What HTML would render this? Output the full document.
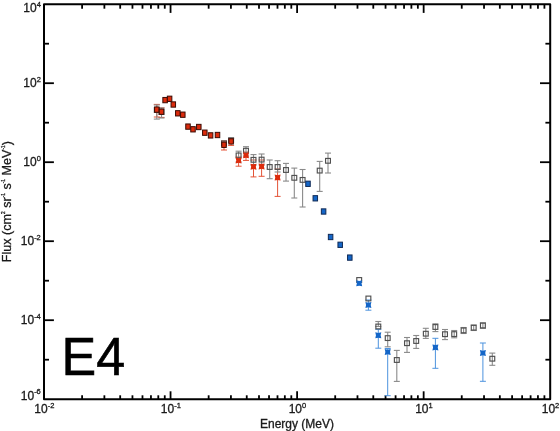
<!DOCTYPE html>
<html><head><meta charset="utf-8"><title>E4 spectrum</title>
<style>
html,body{margin:0;padding:0;background:#fff;}
body{width:560px;height:431px;overflow:hidden;}
svg{display:block;}
</style></head>
<body>
<svg width="560" height="431" viewBox="0 0 560 431">
<rect width="560" height="431" fill="#fff"/>
<rect x="44.00" y="4.20" width="506.20" height="395.00" fill="none" stroke="#000" stroke-width="2.0" stroke-linejoin="round"/>
<line x1="82.10" y1="399.20" x2="82.10" y2="395.30" stroke="#000" stroke-width="1.8"/>
<line x1="82.10" y1="4.20" x2="82.10" y2="8.70" stroke="#000" stroke-width="1.8"/>
<line x1="104.38" y1="399.20" x2="104.38" y2="395.30" stroke="#000" stroke-width="1.8"/>
<line x1="104.38" y1="4.20" x2="104.38" y2="8.70" stroke="#000" stroke-width="1.8"/>
<line x1="120.19" y1="399.20" x2="120.19" y2="395.30" stroke="#000" stroke-width="1.8"/>
<line x1="120.19" y1="4.20" x2="120.19" y2="8.70" stroke="#000" stroke-width="1.8"/>
<line x1="132.45" y1="399.20" x2="132.45" y2="395.30" stroke="#000" stroke-width="1.8"/>
<line x1="132.45" y1="4.20" x2="132.45" y2="8.70" stroke="#000" stroke-width="1.8"/>
<line x1="142.48" y1="399.20" x2="142.48" y2="395.30" stroke="#000" stroke-width="1.8"/>
<line x1="142.48" y1="4.20" x2="142.48" y2="8.70" stroke="#000" stroke-width="1.8"/>
<line x1="150.95" y1="399.20" x2="150.95" y2="395.30" stroke="#000" stroke-width="1.8"/>
<line x1="150.95" y1="4.20" x2="150.95" y2="8.70" stroke="#000" stroke-width="1.8"/>
<line x1="158.29" y1="399.20" x2="158.29" y2="395.30" stroke="#000" stroke-width="1.8"/>
<line x1="158.29" y1="4.20" x2="158.29" y2="8.70" stroke="#000" stroke-width="1.8"/>
<line x1="164.76" y1="399.20" x2="164.76" y2="395.30" stroke="#000" stroke-width="1.8"/>
<line x1="164.76" y1="4.20" x2="164.76" y2="8.70" stroke="#000" stroke-width="1.8"/>
<line x1="170.55" y1="399.20" x2="170.55" y2="391.30" stroke="#000" stroke-width="1.8"/>
<line x1="170.55" y1="4.20" x2="170.55" y2="12.90" stroke="#000" stroke-width="1.8"/>
<line x1="208.65" y1="399.20" x2="208.65" y2="395.30" stroke="#000" stroke-width="1.8"/>
<line x1="208.65" y1="4.20" x2="208.65" y2="8.70" stroke="#000" stroke-width="1.8"/>
<line x1="230.93" y1="399.20" x2="230.93" y2="395.30" stroke="#000" stroke-width="1.8"/>
<line x1="230.93" y1="4.20" x2="230.93" y2="8.70" stroke="#000" stroke-width="1.8"/>
<line x1="246.74" y1="399.20" x2="246.74" y2="395.30" stroke="#000" stroke-width="1.8"/>
<line x1="246.74" y1="4.20" x2="246.74" y2="8.70" stroke="#000" stroke-width="1.8"/>
<line x1="259.00" y1="399.20" x2="259.00" y2="395.30" stroke="#000" stroke-width="1.8"/>
<line x1="259.00" y1="4.20" x2="259.00" y2="8.70" stroke="#000" stroke-width="1.8"/>
<line x1="269.03" y1="399.20" x2="269.03" y2="395.30" stroke="#000" stroke-width="1.8"/>
<line x1="269.03" y1="4.20" x2="269.03" y2="8.70" stroke="#000" stroke-width="1.8"/>
<line x1="277.50" y1="399.20" x2="277.50" y2="395.30" stroke="#000" stroke-width="1.8"/>
<line x1="277.50" y1="4.20" x2="277.50" y2="8.70" stroke="#000" stroke-width="1.8"/>
<line x1="284.84" y1="399.20" x2="284.84" y2="395.30" stroke="#000" stroke-width="1.8"/>
<line x1="284.84" y1="4.20" x2="284.84" y2="8.70" stroke="#000" stroke-width="1.8"/>
<line x1="291.31" y1="399.20" x2="291.31" y2="395.30" stroke="#000" stroke-width="1.8"/>
<line x1="291.31" y1="4.20" x2="291.31" y2="8.70" stroke="#000" stroke-width="1.8"/>
<line x1="297.10" y1="399.20" x2="297.10" y2="391.30" stroke="#000" stroke-width="1.8"/>
<line x1="297.10" y1="4.20" x2="297.10" y2="12.90" stroke="#000" stroke-width="1.8"/>
<line x1="335.20" y1="399.20" x2="335.20" y2="395.30" stroke="#000" stroke-width="1.8"/>
<line x1="335.20" y1="4.20" x2="335.20" y2="8.70" stroke="#000" stroke-width="1.8"/>
<line x1="357.48" y1="399.20" x2="357.48" y2="395.30" stroke="#000" stroke-width="1.8"/>
<line x1="357.48" y1="4.20" x2="357.48" y2="8.70" stroke="#000" stroke-width="1.8"/>
<line x1="373.29" y1="399.20" x2="373.29" y2="395.30" stroke="#000" stroke-width="1.8"/>
<line x1="373.29" y1="4.20" x2="373.29" y2="8.70" stroke="#000" stroke-width="1.8"/>
<line x1="385.55" y1="399.20" x2="385.55" y2="395.30" stroke="#000" stroke-width="1.8"/>
<line x1="385.55" y1="4.20" x2="385.55" y2="8.70" stroke="#000" stroke-width="1.8"/>
<line x1="395.58" y1="399.20" x2="395.58" y2="395.30" stroke="#000" stroke-width="1.8"/>
<line x1="395.58" y1="4.20" x2="395.58" y2="8.70" stroke="#000" stroke-width="1.8"/>
<line x1="404.05" y1="399.20" x2="404.05" y2="395.30" stroke="#000" stroke-width="1.8"/>
<line x1="404.05" y1="4.20" x2="404.05" y2="8.70" stroke="#000" stroke-width="1.8"/>
<line x1="411.39" y1="399.20" x2="411.39" y2="395.30" stroke="#000" stroke-width="1.8"/>
<line x1="411.39" y1="4.20" x2="411.39" y2="8.70" stroke="#000" stroke-width="1.8"/>
<line x1="417.86" y1="399.20" x2="417.86" y2="395.30" stroke="#000" stroke-width="1.8"/>
<line x1="417.86" y1="4.20" x2="417.86" y2="8.70" stroke="#000" stroke-width="1.8"/>
<line x1="423.65" y1="399.20" x2="423.65" y2="391.30" stroke="#000" stroke-width="1.8"/>
<line x1="423.65" y1="4.20" x2="423.65" y2="12.90" stroke="#000" stroke-width="1.8"/>
<line x1="461.75" y1="399.20" x2="461.75" y2="395.30" stroke="#000" stroke-width="1.8"/>
<line x1="461.75" y1="4.20" x2="461.75" y2="8.70" stroke="#000" stroke-width="1.8"/>
<line x1="484.03" y1="399.20" x2="484.03" y2="395.30" stroke="#000" stroke-width="1.8"/>
<line x1="484.03" y1="4.20" x2="484.03" y2="8.70" stroke="#000" stroke-width="1.8"/>
<line x1="499.84" y1="399.20" x2="499.84" y2="395.30" stroke="#000" stroke-width="1.8"/>
<line x1="499.84" y1="4.20" x2="499.84" y2="8.70" stroke="#000" stroke-width="1.8"/>
<line x1="512.10" y1="399.20" x2="512.10" y2="395.30" stroke="#000" stroke-width="1.8"/>
<line x1="512.10" y1="4.20" x2="512.10" y2="8.70" stroke="#000" stroke-width="1.8"/>
<line x1="522.13" y1="399.20" x2="522.13" y2="395.30" stroke="#000" stroke-width="1.8"/>
<line x1="522.13" y1="4.20" x2="522.13" y2="8.70" stroke="#000" stroke-width="1.8"/>
<line x1="530.60" y1="399.20" x2="530.60" y2="395.30" stroke="#000" stroke-width="1.8"/>
<line x1="530.60" y1="4.20" x2="530.60" y2="8.70" stroke="#000" stroke-width="1.8"/>
<line x1="537.94" y1="399.20" x2="537.94" y2="395.30" stroke="#000" stroke-width="1.8"/>
<line x1="537.94" y1="4.20" x2="537.94" y2="8.70" stroke="#000" stroke-width="1.8"/>
<line x1="544.41" y1="399.20" x2="544.41" y2="395.30" stroke="#000" stroke-width="1.8"/>
<line x1="544.41" y1="4.20" x2="544.41" y2="8.70" stroke="#000" stroke-width="1.8"/>
<line x1="44.00" y1="359.70" x2="49.00" y2="359.70" stroke="#000" stroke-width="1.8"/>
<line x1="550.20" y1="359.70" x2="545.40" y2="359.70" stroke="#000" stroke-width="1.8"/>
<line x1="44.00" y1="320.20" x2="53.90" y2="320.20" stroke="#000" stroke-width="1.8"/>
<line x1="550.20" y1="320.20" x2="540.00" y2="320.20" stroke="#000" stroke-width="1.8"/>
<line x1="44.00" y1="280.70" x2="49.00" y2="280.70" stroke="#000" stroke-width="1.8"/>
<line x1="550.20" y1="280.70" x2="545.40" y2="280.70" stroke="#000" stroke-width="1.8"/>
<line x1="44.00" y1="241.20" x2="53.90" y2="241.20" stroke="#000" stroke-width="1.8"/>
<line x1="550.20" y1="241.20" x2="540.00" y2="241.20" stroke="#000" stroke-width="1.8"/>
<line x1="44.00" y1="201.70" x2="49.00" y2="201.70" stroke="#000" stroke-width="1.8"/>
<line x1="550.20" y1="201.70" x2="545.40" y2="201.70" stroke="#000" stroke-width="1.8"/>
<line x1="44.00" y1="162.20" x2="53.90" y2="162.20" stroke="#000" stroke-width="1.8"/>
<line x1="550.20" y1="162.20" x2="540.00" y2="162.20" stroke="#000" stroke-width="1.8"/>
<line x1="44.00" y1="122.70" x2="49.00" y2="122.70" stroke="#000" stroke-width="1.8"/>
<line x1="550.20" y1="122.70" x2="545.40" y2="122.70" stroke="#000" stroke-width="1.8"/>
<line x1="44.00" y1="83.20" x2="53.90" y2="83.20" stroke="#000" stroke-width="1.8"/>
<line x1="550.20" y1="83.20" x2="540.00" y2="83.20" stroke="#000" stroke-width="1.8"/>
<line x1="44.00" y1="43.70" x2="49.00" y2="43.70" stroke="#000" stroke-width="1.8"/>
<line x1="550.20" y1="43.70" x2="545.40" y2="43.70" stroke="#000" stroke-width="1.8"/>
<line x1="156.80" y1="104.40" x2="156.80" y2="117.00" stroke="#e34b2c" stroke-width="0.95"/>
<line x1="153.80" y1="104.40" x2="159.80" y2="104.40" stroke="#e34b2c" stroke-width="0.95"/>
<line x1="153.80" y1="117.00" x2="159.80" y2="117.00" stroke="#e34b2c" stroke-width="0.95"/>
<line x1="161.50" y1="107.90" x2="161.50" y2="117.40" stroke="#e34b2c" stroke-width="0.95"/>
<line x1="158.50" y1="107.90" x2="164.50" y2="107.90" stroke="#e34b2c" stroke-width="0.95"/>
<line x1="158.50" y1="117.40" x2="164.50" y2="117.40" stroke="#e34b2c" stroke-width="0.95"/>
<line x1="224.00" y1="141.00" x2="224.00" y2="150.00" stroke="#e34b2c" stroke-width="0.95"/>
<line x1="221.00" y1="141.00" x2="227.00" y2="141.00" stroke="#e34b2c" stroke-width="0.95"/>
<line x1="221.00" y1="150.00" x2="227.00" y2="150.00" stroke="#e34b2c" stroke-width="0.95"/>
<line x1="231.10" y1="138.50" x2="231.10" y2="145.40" stroke="#e34b2c" stroke-width="0.95"/>
<line x1="228.10" y1="138.50" x2="234.10" y2="138.50" stroke="#e34b2c" stroke-width="0.95"/>
<line x1="228.10" y1="145.40" x2="234.10" y2="145.40" stroke="#e34b2c" stroke-width="0.95"/>
<line x1="238.60" y1="157.00" x2="238.60" y2="166.20" stroke="#e34b2c" stroke-width="0.95"/>
<line x1="235.60" y1="157.00" x2="241.60" y2="157.00" stroke="#e34b2c" stroke-width="0.95"/>
<line x1="235.60" y1="166.20" x2="241.60" y2="166.20" stroke="#e34b2c" stroke-width="0.95"/>
<line x1="246.00" y1="152.00" x2="246.00" y2="160.40" stroke="#e34b2c" stroke-width="0.95"/>
<line x1="243.00" y1="152.00" x2="249.00" y2="152.00" stroke="#e34b2c" stroke-width="0.95"/>
<line x1="243.00" y1="160.40" x2="249.00" y2="160.40" stroke="#e34b2c" stroke-width="0.95"/>
<line x1="253.50" y1="160.00" x2="253.50" y2="176.90" stroke="#e34b2c" stroke-width="0.95"/>
<line x1="250.50" y1="160.00" x2="256.50" y2="160.00" stroke="#e34b2c" stroke-width="0.95"/>
<line x1="250.50" y1="176.90" x2="256.50" y2="176.90" stroke="#e34b2c" stroke-width="0.95"/>
<line x1="261.60" y1="160.00" x2="261.60" y2="176.30" stroke="#e34b2c" stroke-width="0.95"/>
<line x1="258.60" y1="160.00" x2="264.60" y2="160.00" stroke="#e34b2c" stroke-width="0.95"/>
<line x1="258.60" y1="176.30" x2="264.60" y2="176.30" stroke="#e34b2c" stroke-width="0.95"/>
<line x1="277.60" y1="169.00" x2="277.60" y2="196.40" stroke="#e34b2c" stroke-width="0.95"/>
<line x1="274.60" y1="169.00" x2="280.60" y2="169.00" stroke="#e34b2c" stroke-width="0.95"/>
<line x1="274.60" y1="196.40" x2="280.60" y2="196.40" stroke="#e34b2c" stroke-width="0.95"/>
<line x1="368.40" y1="300.00" x2="368.40" y2="310.20" stroke="#4d93de" stroke-width="1.0"/>
<line x1="365.40" y1="300.00" x2="371.40" y2="300.00" stroke="#4d93de" stroke-width="1.0"/>
<line x1="365.40" y1="310.20" x2="371.40" y2="310.20" stroke="#4d93de" stroke-width="1.0"/>
<line x1="378.30" y1="329.30" x2="378.30" y2="348.20" stroke="#4d93de" stroke-width="1.0"/>
<line x1="375.30" y1="329.30" x2="381.30" y2="329.30" stroke="#4d93de" stroke-width="1.0"/>
<line x1="375.30" y1="348.20" x2="381.30" y2="348.20" stroke="#4d93de" stroke-width="1.0"/>
<line x1="387.70" y1="348.50" x2="387.70" y2="395.70" stroke="#4d93de" stroke-width="1.0"/>
<line x1="384.70" y1="348.50" x2="390.70" y2="348.50" stroke="#4d93de" stroke-width="1.0"/>
<line x1="384.70" y1="395.70" x2="390.70" y2="395.70" stroke="#4d93de" stroke-width="1.0"/>
<line x1="435.40" y1="338.30" x2="435.40" y2="368.30" stroke="#4d93de" stroke-width="1.0"/>
<line x1="432.40" y1="338.30" x2="438.40" y2="338.30" stroke="#4d93de" stroke-width="1.0"/>
<line x1="432.40" y1="368.30" x2="438.40" y2="368.30" stroke="#4d93de" stroke-width="1.0"/>
<line x1="482.90" y1="343.00" x2="482.90" y2="381.30" stroke="#4d93de" stroke-width="1.0"/>
<line x1="479.90" y1="343.00" x2="485.90" y2="343.00" stroke="#4d93de" stroke-width="1.0"/>
<line x1="479.90" y1="381.30" x2="485.90" y2="381.30" stroke="#4d93de" stroke-width="1.0"/>
<line x1="156.80" y1="105.00" x2="156.80" y2="119.10" stroke="#8a8a8a" stroke-width="1.1"/>
<line x1="153.80" y1="105.00" x2="159.80" y2="105.00" stroke="#8a8a8a" stroke-width="1.1"/>
<line x1="153.80" y1="119.10" x2="159.80" y2="119.10" stroke="#8a8a8a" stroke-width="1.1"/>
<line x1="161.50" y1="108.00" x2="161.50" y2="118.00" stroke="#8a8a8a" stroke-width="1.1"/>
<line x1="158.50" y1="108.00" x2="164.50" y2="108.00" stroke="#8a8a8a" stroke-width="1.1"/>
<line x1="158.50" y1="118.00" x2="164.50" y2="118.00" stroke="#8a8a8a" stroke-width="1.1"/>
<line x1="238.60" y1="151.20" x2="238.60" y2="162.00" stroke="#8a8a8a" stroke-width="1.1"/>
<line x1="235.60" y1="151.20" x2="241.60" y2="151.20" stroke="#8a8a8a" stroke-width="1.1"/>
<line x1="235.60" y1="162.00" x2="241.60" y2="162.00" stroke="#8a8a8a" stroke-width="1.1"/>
<line x1="246.00" y1="146.70" x2="246.00" y2="156.00" stroke="#8a8a8a" stroke-width="1.1"/>
<line x1="243.00" y1="146.70" x2="249.00" y2="146.70" stroke="#8a8a8a" stroke-width="1.1"/>
<line x1="243.00" y1="156.00" x2="249.00" y2="156.00" stroke="#8a8a8a" stroke-width="1.1"/>
<line x1="253.50" y1="154.60" x2="253.50" y2="165.00" stroke="#8a8a8a" stroke-width="1.1"/>
<line x1="250.50" y1="154.60" x2="256.50" y2="154.60" stroke="#8a8a8a" stroke-width="1.1"/>
<line x1="250.50" y1="165.00" x2="256.50" y2="165.00" stroke="#8a8a8a" stroke-width="1.1"/>
<line x1="261.60" y1="154.00" x2="261.60" y2="165.00" stroke="#8a8a8a" stroke-width="1.1"/>
<line x1="258.60" y1="154.00" x2="264.60" y2="154.00" stroke="#8a8a8a" stroke-width="1.1"/>
<line x1="258.60" y1="165.00" x2="264.60" y2="165.00" stroke="#8a8a8a" stroke-width="1.1"/>
<line x1="269.70" y1="160.00" x2="269.70" y2="178.70" stroke="#8a8a8a" stroke-width="1.1"/>
<line x1="266.70" y1="160.00" x2="272.70" y2="160.00" stroke="#8a8a8a" stroke-width="1.1"/>
<line x1="266.70" y1="178.70" x2="272.70" y2="178.70" stroke="#8a8a8a" stroke-width="1.1"/>
<line x1="277.60" y1="160.70" x2="277.60" y2="172.00" stroke="#8a8a8a" stroke-width="1.1"/>
<line x1="274.60" y1="160.70" x2="280.60" y2="160.70" stroke="#8a8a8a" stroke-width="1.1"/>
<line x1="274.60" y1="172.00" x2="280.60" y2="172.00" stroke="#8a8a8a" stroke-width="1.1"/>
<line x1="286.00" y1="163.40" x2="286.00" y2="181.10" stroke="#8a8a8a" stroke-width="1.1"/>
<line x1="283.00" y1="163.40" x2="289.00" y2="163.40" stroke="#8a8a8a" stroke-width="1.1"/>
<line x1="283.00" y1="181.10" x2="289.00" y2="181.10" stroke="#8a8a8a" stroke-width="1.1"/>
<line x1="294.30" y1="168.10" x2="294.30" y2="198.00" stroke="#8a8a8a" stroke-width="1.1"/>
<line x1="291.30" y1="168.10" x2="297.30" y2="168.10" stroke="#8a8a8a" stroke-width="1.1"/>
<line x1="291.30" y1="198.00" x2="297.30" y2="198.00" stroke="#8a8a8a" stroke-width="1.1"/>
<line x1="302.60" y1="169.50" x2="302.60" y2="207.00" stroke="#8a8a8a" stroke-width="1.1"/>
<line x1="299.60" y1="169.50" x2="305.60" y2="169.50" stroke="#8a8a8a" stroke-width="1.1"/>
<line x1="299.60" y1="207.00" x2="305.60" y2="207.00" stroke="#8a8a8a" stroke-width="1.1"/>
<line x1="319.70" y1="161.40" x2="319.70" y2="191.40" stroke="#8a8a8a" stroke-width="1.1"/>
<line x1="316.70" y1="161.40" x2="322.70" y2="161.40" stroke="#8a8a8a" stroke-width="1.1"/>
<line x1="316.70" y1="191.40" x2="322.70" y2="191.40" stroke="#8a8a8a" stroke-width="1.1"/>
<line x1="328.00" y1="153.10" x2="328.00" y2="173.00" stroke="#8a8a8a" stroke-width="1.1"/>
<line x1="325.00" y1="153.10" x2="331.00" y2="153.10" stroke="#8a8a8a" stroke-width="1.1"/>
<line x1="325.00" y1="173.00" x2="331.00" y2="173.00" stroke="#8a8a8a" stroke-width="1.1"/>
<line x1="378.30" y1="321.50" x2="378.30" y2="326.50" stroke="#8a8a8a" stroke-width="1.1"/>
<line x1="375.30" y1="321.50" x2="381.30" y2="321.50" stroke="#8a8a8a" stroke-width="1.1"/>
<line x1="375.30" y1="326.50" x2="381.30" y2="326.50" stroke="#8a8a8a" stroke-width="1.1"/>
<line x1="387.70" y1="332.20" x2="387.70" y2="346.80" stroke="#8a8a8a" stroke-width="1.1"/>
<line x1="384.70" y1="332.20" x2="390.70" y2="332.20" stroke="#8a8a8a" stroke-width="1.1"/>
<line x1="384.70" y1="346.80" x2="390.70" y2="346.80" stroke="#8a8a8a" stroke-width="1.1"/>
<line x1="396.80" y1="350.40" x2="396.80" y2="381.40" stroke="#8a8a8a" stroke-width="1.1"/>
<line x1="393.80" y1="350.40" x2="399.80" y2="350.40" stroke="#8a8a8a" stroke-width="1.1"/>
<line x1="393.80" y1="381.40" x2="399.80" y2="381.40" stroke="#8a8a8a" stroke-width="1.1"/>
<line x1="407.00" y1="337.50" x2="407.00" y2="352.40" stroke="#8a8a8a" stroke-width="1.1"/>
<line x1="404.00" y1="337.50" x2="410.00" y2="337.50" stroke="#8a8a8a" stroke-width="1.1"/>
<line x1="404.00" y1="352.40" x2="410.00" y2="352.40" stroke="#8a8a8a" stroke-width="1.1"/>
<line x1="416.20" y1="335.50" x2="416.20" y2="348.40" stroke="#8a8a8a" stroke-width="1.1"/>
<line x1="413.20" y1="335.50" x2="419.20" y2="335.50" stroke="#8a8a8a" stroke-width="1.1"/>
<line x1="413.20" y1="348.40" x2="419.20" y2="348.40" stroke="#8a8a8a" stroke-width="1.1"/>
<line x1="425.80" y1="328.30" x2="425.80" y2="338.40" stroke="#8a8a8a" stroke-width="1.1"/>
<line x1="422.80" y1="328.30" x2="428.80" y2="328.30" stroke="#8a8a8a" stroke-width="1.1"/>
<line x1="422.80" y1="338.40" x2="428.80" y2="338.40" stroke="#8a8a8a" stroke-width="1.1"/>
<line x1="435.40" y1="323.80" x2="435.40" y2="331.60" stroke="#8a8a8a" stroke-width="1.1"/>
<line x1="432.40" y1="323.80" x2="438.40" y2="323.80" stroke="#8a8a8a" stroke-width="1.1"/>
<line x1="432.40" y1="331.60" x2="438.40" y2="331.60" stroke="#8a8a8a" stroke-width="1.1"/>
<line x1="445.00" y1="329.50" x2="445.00" y2="339.60" stroke="#8a8a8a" stroke-width="1.1"/>
<line x1="442.00" y1="329.50" x2="448.00" y2="329.50" stroke="#8a8a8a" stroke-width="1.1"/>
<line x1="442.00" y1="339.60" x2="448.00" y2="339.60" stroke="#8a8a8a" stroke-width="1.1"/>
<line x1="454.20" y1="330.50" x2="454.20" y2="337.80" stroke="#8a8a8a" stroke-width="1.1"/>
<line x1="451.20" y1="330.50" x2="457.20" y2="330.50" stroke="#8a8a8a" stroke-width="1.1"/>
<line x1="451.20" y1="337.80" x2="457.20" y2="337.80" stroke="#8a8a8a" stroke-width="1.1"/>
<line x1="463.60" y1="327.50" x2="463.60" y2="333.50" stroke="#8a8a8a" stroke-width="1.1"/>
<line x1="460.60" y1="327.50" x2="466.60" y2="327.50" stroke="#8a8a8a" stroke-width="1.1"/>
<line x1="460.60" y1="333.50" x2="466.60" y2="333.50" stroke="#8a8a8a" stroke-width="1.1"/>
<line x1="473.70" y1="325.00" x2="473.70" y2="330.50" stroke="#8a8a8a" stroke-width="1.1"/>
<line x1="470.70" y1="325.00" x2="476.70" y2="325.00" stroke="#8a8a8a" stroke-width="1.1"/>
<line x1="470.70" y1="330.50" x2="476.70" y2="330.50" stroke="#8a8a8a" stroke-width="1.1"/>
<line x1="482.90" y1="322.80" x2="482.90" y2="328.40" stroke="#8a8a8a" stroke-width="1.1"/>
<line x1="479.90" y1="322.80" x2="485.90" y2="322.80" stroke="#8a8a8a" stroke-width="1.1"/>
<line x1="479.90" y1="328.40" x2="485.90" y2="328.40" stroke="#8a8a8a" stroke-width="1.1"/>
<line x1="492.30" y1="353.10" x2="492.30" y2="365.30" stroke="#8a8a8a" stroke-width="1.1"/>
<line x1="489.30" y1="353.10" x2="495.30" y2="353.10" stroke="#8a8a8a" stroke-width="1.1"/>
<line x1="489.30" y1="365.30" x2="495.30" y2="365.30" stroke="#8a8a8a" stroke-width="1.1"/>
<rect x="154.38" y="107.62" width="4.85" height="4.75" fill="none" stroke="#505050" stroke-width="1.15"/>
<rect x="159.07" y="109.62" width="4.85" height="4.75" fill="none" stroke="#505050" stroke-width="1.15"/>
<rect x="221.57" y="140.93" width="4.85" height="4.75" fill="none" stroke="#505050" stroke-width="1.15"/>
<rect x="228.67" y="137.82" width="4.85" height="4.75" fill="none" stroke="#505050" stroke-width="1.15"/>
<rect x="236.17" y="153.03" width="4.85" height="4.75" fill="none" stroke="#505050" stroke-width="1.15"/>
<rect x="243.57" y="148.32" width="4.85" height="4.75" fill="none" stroke="#505050" stroke-width="1.15"/>
<rect x="251.07" y="157.43" width="4.85" height="4.75" fill="none" stroke="#505050" stroke-width="1.15"/>
<rect x="259.18" y="157.22" width="4.85" height="4.75" fill="none" stroke="#505050" stroke-width="1.15"/>
<rect x="267.27" y="164.62" width="4.85" height="4.75" fill="none" stroke="#505050" stroke-width="1.15"/>
<rect x="275.18" y="164.62" width="4.85" height="4.75" fill="none" stroke="#505050" stroke-width="1.15"/>
<rect x="283.57" y="167.62" width="4.85" height="4.75" fill="none" stroke="#505050" stroke-width="1.15"/>
<rect x="291.88" y="175.43" width="4.85" height="4.75" fill="none" stroke="#505050" stroke-width="1.15"/>
<rect x="300.18" y="177.53" width="4.85" height="4.75" fill="none" stroke="#505050" stroke-width="1.15"/>
<rect x="317.27" y="168.22" width="4.85" height="4.75" fill="none" stroke="#505050" stroke-width="1.15"/>
<rect x="325.57" y="158.43" width="4.85" height="4.75" fill="none" stroke="#505050" stroke-width="1.15"/>
<rect x="356.77" y="277.62" width="4.85" height="4.75" fill="none" stroke="#505050" stroke-width="1.15"/>
<rect x="365.97" y="296.12" width="4.85" height="4.75" fill="none" stroke="#505050" stroke-width="1.15"/>
<rect x="375.88" y="324.12" width="4.85" height="4.75" fill="none" stroke="#505050" stroke-width="1.15"/>
<rect x="385.27" y="335.73" width="4.85" height="4.75" fill="none" stroke="#505050" stroke-width="1.15"/>
<rect x="394.38" y="357.62" width="4.85" height="4.75" fill="none" stroke="#505050" stroke-width="1.15"/>
<rect x="404.57" y="340.82" width="4.85" height="4.75" fill="none" stroke="#505050" stroke-width="1.15"/>
<rect x="413.77" y="338.62" width="4.85" height="4.75" fill="none" stroke="#505050" stroke-width="1.15"/>
<rect x="423.38" y="331.32" width="4.85" height="4.75" fill="none" stroke="#505050" stroke-width="1.15"/>
<rect x="432.97" y="324.62" width="4.85" height="4.75" fill="none" stroke="#505050" stroke-width="1.15"/>
<rect x="442.57" y="331.82" width="4.85" height="4.75" fill="none" stroke="#505050" stroke-width="1.15"/>
<rect x="451.77" y="331.73" width="4.85" height="4.75" fill="none" stroke="#505050" stroke-width="1.15"/>
<rect x="461.18" y="328.02" width="4.85" height="4.75" fill="none" stroke="#505050" stroke-width="1.15"/>
<rect x="471.27" y="325.32" width="4.85" height="4.75" fill="none" stroke="#505050" stroke-width="1.15"/>
<rect x="480.47" y="323.12" width="4.85" height="4.75" fill="none" stroke="#505050" stroke-width="1.15"/>
<rect x="489.88" y="356.32" width="4.85" height="4.75" fill="none" stroke="#505050" stroke-width="1.15"/>
<rect x="154.55" y="106.95" width="4.50" height="5.30" fill="#dc2b0c" stroke="#3b0c05" stroke-width="1.0"/>
<rect x="159.25" y="109.05" width="4.50" height="5.30" fill="#dc2b0c" stroke="#3b0c05" stroke-width="1.0"/>
<rect x="162.85" y="97.45" width="4.50" height="5.30" fill="#dc2b0c" stroke="#3b0c05" stroke-width="1.0"/>
<rect x="167.35" y="96.15" width="4.50" height="5.30" fill="#dc2b0c" stroke="#3b0c05" stroke-width="1.0"/>
<rect x="171.05" y="101.85" width="4.50" height="5.30" fill="#dc2b0c" stroke="#3b0c05" stroke-width="1.0"/>
<rect x="175.55" y="110.65" width="4.50" height="5.30" fill="#dc2b0c" stroke="#3b0c05" stroke-width="1.0"/>
<rect x="180.55" y="112.05" width="4.50" height="5.30" fill="#dc2b0c" stroke="#3b0c05" stroke-width="1.0"/>
<rect x="185.75" y="123.95" width="4.50" height="5.30" fill="#dc2b0c" stroke="#3b0c05" stroke-width="1.0"/>
<rect x="190.75" y="126.65" width="4.50" height="5.30" fill="#dc2b0c" stroke="#3b0c05" stroke-width="1.0"/>
<rect x="196.55" y="124.35" width="4.50" height="5.30" fill="#dc2b0c" stroke="#3b0c05" stroke-width="1.0"/>
<rect x="202.55" y="130.05" width="4.50" height="5.30" fill="#dc2b0c" stroke="#3b0c05" stroke-width="1.0"/>
<rect x="208.35" y="132.75" width="4.50" height="5.30" fill="#dc2b0c" stroke="#3b0c05" stroke-width="1.0"/>
<rect x="215.25" y="132.35" width="4.50" height="5.30" fill="#dc2b0c" stroke="#3b0c05" stroke-width="1.0"/>
<rect x="221.75" y="142.15" width="4.50" height="5.30" fill="#dc2b0c" stroke="#3b0c05" stroke-width="1.0"/>
<rect x="228.85" y="138.75" width="4.50" height="5.30" fill="#dc2b0c" stroke="#3b0c05" stroke-width="1.0"/>
<path d="M235.60,157.50 L238.60,158.16 L241.60,157.50 L240.94,160.50 L241.60,163.50 L238.60,162.84 L235.60,163.50 L236.26,160.50 Z" fill="#dc2b0c"/>
<path d="M243.00,152.30 L246.00,152.96 L249.00,152.30 L248.34,155.30 L249.00,158.30 L246.00,157.64 L243.00,158.30 L243.66,155.30 Z" fill="#dc2b0c"/>
<path d="M250.50,163.70 L253.50,164.36 L256.50,163.70 L255.84,166.70 L256.50,169.70 L253.50,169.04 L250.50,169.70 L251.16,166.70 Z" fill="#dc2b0c"/>
<path d="M258.60,163.40 L261.60,164.06 L264.60,163.40 L263.94,166.40 L264.60,169.40 L261.60,168.74 L258.60,169.40 L259.26,166.40 Z" fill="#dc2b0c"/>
<path d="M274.60,174.60 L277.60,175.26 L280.60,174.60 L279.94,177.60 L280.60,180.60 L277.60,179.94 L274.60,180.60 L275.26,177.60 Z" fill="#dc2b0c"/>
<rect x="305.75" y="181.15" width="4.50" height="5.30" fill="#1466c8" stroke="#102a55" stroke-width="1.0"/>
<rect x="313.05" y="195.65" width="4.50" height="5.30" fill="#1466c8" stroke="#102a55" stroke-width="1.0"/>
<rect x="321.35" y="208.85" width="4.50" height="5.30" fill="#1466c8" stroke="#102a55" stroke-width="1.0"/>
<rect x="328.35" y="234.35" width="4.50" height="5.30" fill="#1466c8" stroke="#102a55" stroke-width="1.0"/>
<rect x="337.95" y="242.15" width="4.50" height="5.30" fill="#1466c8" stroke="#102a55" stroke-width="1.0"/>
<rect x="347.55" y="254.95" width="4.50" height="5.30" fill="#1466c8" stroke="#102a55" stroke-width="1.0"/>
<path d="M356.20,280.30 L359.20,280.96 L362.20,280.30 L361.54,283.30 L362.20,286.30 L359.20,285.64 L356.20,286.30 L356.86,283.30 Z" fill="#1466c8"/>
<path d="M365.40,302.00 L368.40,302.66 L371.40,302.00 L370.74,305.00 L371.40,308.00 L368.40,307.34 L365.40,308.00 L366.06,305.00 Z" fill="#1466c8"/>
<path d="M375.30,332.30 L378.30,332.96 L381.30,332.30 L380.64,335.30 L381.30,338.30 L378.30,337.64 L375.30,338.30 L375.96,335.30 Z" fill="#1466c8"/>
<path d="M384.70,349.00 L387.70,349.66 L390.70,349.00 L390.04,352.00 L390.70,355.00 L387.70,354.34 L384.70,355.00 L385.36,352.00 Z" fill="#1466c8"/>
<path d="M432.40,344.40 L435.40,345.06 L438.40,344.40 L437.74,347.40 L438.40,350.40 L435.40,349.74 L432.40,350.40 L433.06,347.40 Z" fill="#1466c8"/>
<path d="M479.90,350.00 L482.90,350.66 L485.90,350.00 L485.24,353.00 L485.90,356.00 L482.90,355.34 L479.90,356.00 L480.56,353.00 Z" fill="#1466c8"/>
<text x="40.8" y="11.80" text-anchor="end" font-family="Liberation Sans, Arial, sans-serif" font-size="12" fill="#1a1a1a" stroke="#1a1a1a" stroke-width="0.3">10<tspan font-size="7.5" dy="-5.2">4</tspan></text>
<text x="40.8" y="87.20" text-anchor="end" font-family="Liberation Sans, Arial, sans-serif" font-size="12" fill="#1a1a1a" stroke="#1a1a1a" stroke-width="0.3">10<tspan font-size="7.5" dy="-5.2">2</tspan></text>
<text x="40.8" y="166.20" text-anchor="end" font-family="Liberation Sans, Arial, sans-serif" font-size="12" fill="#1a1a1a" stroke="#1a1a1a" stroke-width="0.3">10<tspan font-size="7.5" dy="-5.2">0</tspan></text>
<text x="40.8" y="245.20" text-anchor="end" font-family="Liberation Sans, Arial, sans-serif" font-size="12" fill="#1a1a1a" stroke="#1a1a1a" stroke-width="0.3">10<tspan font-size="7.5" dy="-5.2">-2</tspan></text>
<text x="40.8" y="324.20" text-anchor="end" font-family="Liberation Sans, Arial, sans-serif" font-size="12" fill="#1a1a1a" stroke="#1a1a1a" stroke-width="0.3">10<tspan font-size="7.5" dy="-5.2">-4</tspan></text>
<text x="40.8" y="399.60" text-anchor="end" font-family="Liberation Sans, Arial, sans-serif" font-size="12" fill="#1a1a1a" stroke="#1a1a1a" stroke-width="0.3">10<tspan font-size="7.5" dy="-5.2">-6</tspan></text>
<text x="44.30" y="413.3" text-anchor="middle" font-family="Liberation Sans, Arial, sans-serif" font-size="12" fill="#1a1a1a" stroke="#1a1a1a" stroke-width="0.3">10<tspan font-size="7.5" dy="-5.6">-2</tspan></text>
<text x="170.85" y="413.3" text-anchor="middle" font-family="Liberation Sans, Arial, sans-serif" font-size="12" fill="#1a1a1a" stroke="#1a1a1a" stroke-width="0.3">10<tspan font-size="7.5" dy="-5.6">-1</tspan></text>
<text x="297.40" y="413.3" text-anchor="middle" font-family="Liberation Sans, Arial, sans-serif" font-size="12" fill="#1a1a1a" stroke="#1a1a1a" stroke-width="0.3">10<tspan font-size="7.5" dy="-5.6">0</tspan></text>
<text x="423.95" y="413.3" text-anchor="middle" font-family="Liberation Sans, Arial, sans-serif" font-size="12" fill="#1a1a1a" stroke="#1a1a1a" stroke-width="0.3">10<tspan font-size="7.5" dy="-5.6">1</tspan></text>
<text x="550.50" y="413.3" text-anchor="middle" font-family="Liberation Sans, Arial, sans-serif" font-size="12" fill="#1a1a1a" stroke="#1a1a1a" stroke-width="0.3">10<tspan font-size="7.5" dy="-5.6">2</tspan></text>
<text x="297" y="427.7" text-anchor="middle" font-family="Liberation Sans, Arial, sans-serif" font-size="12" fill="#1a1a1a" stroke="#1a1a1a" stroke-width="0.3">Energy (MeV)</text>
<text transform="translate(10.9,201.7) rotate(-90)" text-anchor="middle" font-family="Liberation Sans, Arial, sans-serif" font-size="12.6" fill="#1a1a1a" stroke="#1a1a1a" stroke-width="0.3">Flux (cm<tspan font-size="4.8" dy="-6.3">2</tspan><tspan dy="6.3"> sr</tspan><tspan font-size="4.8" dy="-6.3">-1</tspan><tspan dy="6.3"> s</tspan><tspan font-size="4.8" dy="-6.3">-1</tspan><tspan dy="6.3"> MeV</tspan><tspan font-size="4.8" dy="-6.3">-1</tspan><tspan dy="6.3">)</tspan></text>
<text transform="translate(61.6,375.0) scale(0.972,1)" font-family="Liberation Sans, Arial, sans-serif" font-size="53.5" fill="#000" stroke="#000" stroke-width="0.6">E4</text>
</svg>
</body></html>
